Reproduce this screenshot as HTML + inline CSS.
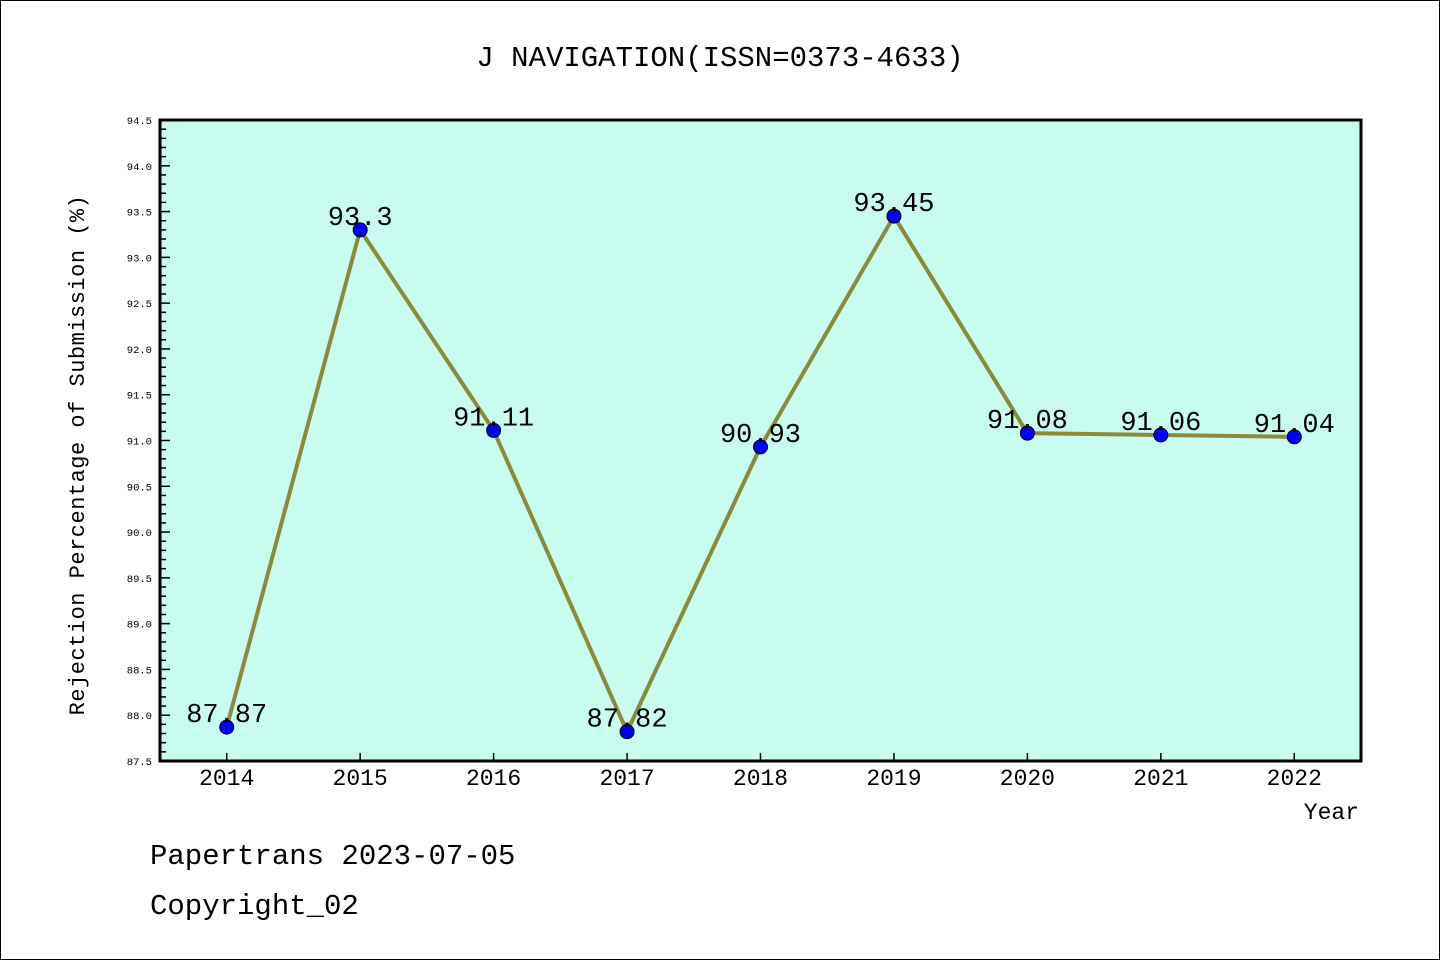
<!DOCTYPE html>
<html><head><meta charset="utf-8"><style>
body{margin:0;background:#fff}
svg text{font-family:"Liberation Mono",monospace}
</style></head><body>
<svg width="1440" height="960" viewBox="0 0 1440 960" id="c">
<rect x="0.5" y="0.5" width="1439" height="959" fill="#fff" stroke="#000"/>
<text x="720" y="66" font-size="29" text-anchor="middle">J NAVIGATION(ISSN=0373-4633)</text>
<rect x="160" y="120" width="1201" height="641" fill="#c8fcef"/>
<g id="ticks"></g>
<g id="marks"></g>
<rect x="160" y="120" width="1201" height="641" fill="none" stroke="#000" stroke-width="3"/>
<text transform="translate(84,455) rotate(-90)" font-size="22" text-anchor="middle" letter-spacing="0.5">Rejection Percentage of Submission (%)</text>
<text x="1359" y="819" font-size="23" text-anchor="end">Year</text>
<text x="150" y="864" font-size="29">Papertrans 2023-07-05</text>
<text x="150" y="914" font-size="29">Copyright_02</text>
</svg>
<script>
const years=[2014,2015,2016,2017,2018,2019,2020,2021,2022];
const values=[87.87,93.3,91.11,87.82,90.93,93.45,91.08,91.06,91.04];
const labels=["87.87","93.3","91.11","87.82","90.93","93.45","91.08","91.06","91.04"];
const yTicks=["87.5","88.0","88.5","89.0","89.5","90.0","90.5","91.0","91.5","92.0","92.5","93.0","93.5","94.0","94.5"];
const NS="http://www.w3.org/2000/svg";
const x=v=>160+(v-2013.5)*(1201/9);
const y=v=>761-(v-87.5)*(641/7);
function mk(t,a,p){const e=document.createElementNS(NS,t);for(const k in a)e.setAttribute(k,a[k]);p.appendChild(e);return e;}
const tg=document.getElementById('ticks'),mg=document.getElementById('marks');
for(let i=0;i<=70;i++){const v=87.5+i*0.1;const major=i%5===0;
 const l=mk('line',{x1:160,x2:160+(major?10:6),y1:y(v),y2:y(v),stroke:'#000','stroke-width':1.5},tg);
 }
yTicks.forEach(s=>{const t=mk('text',{x:152,y:y(parseFloat(s))+4,'font-size':10.5,'text-anchor':'end'},tg);t.textContent=s;
 });
years.forEach(yr=>{const l=mk('line',{x1:x(yr),x2:x(yr),y1:761,y2:753,stroke:'#000','stroke-width':1.5},tg);
 
 const t=mk('text',{x:x(yr),y:785,'font-size':23,'text-anchor':'middle'},tg);t.textContent=yr;
 });
const pl=mk('polyline',{points:years.map((yr,i)=>x(yr)+','+y(values[i])).join(' '),fill:'none',stroke:'#8a8a3a','stroke-width':4},mg);

years.forEach((yr,i)=>{const c=mk('circle',{cx:x(yr),cy:y(values[i]),r:7,fill:'#0000ff',stroke:'#000','stroke-width':1},mg);
 
 const t=mk('text',{x:x(yr),y:y(values[i])-5,'font-size':27,'text-anchor':'middle'},mg);t.textContent=labels[i];
 });
</script>
</body></html>
